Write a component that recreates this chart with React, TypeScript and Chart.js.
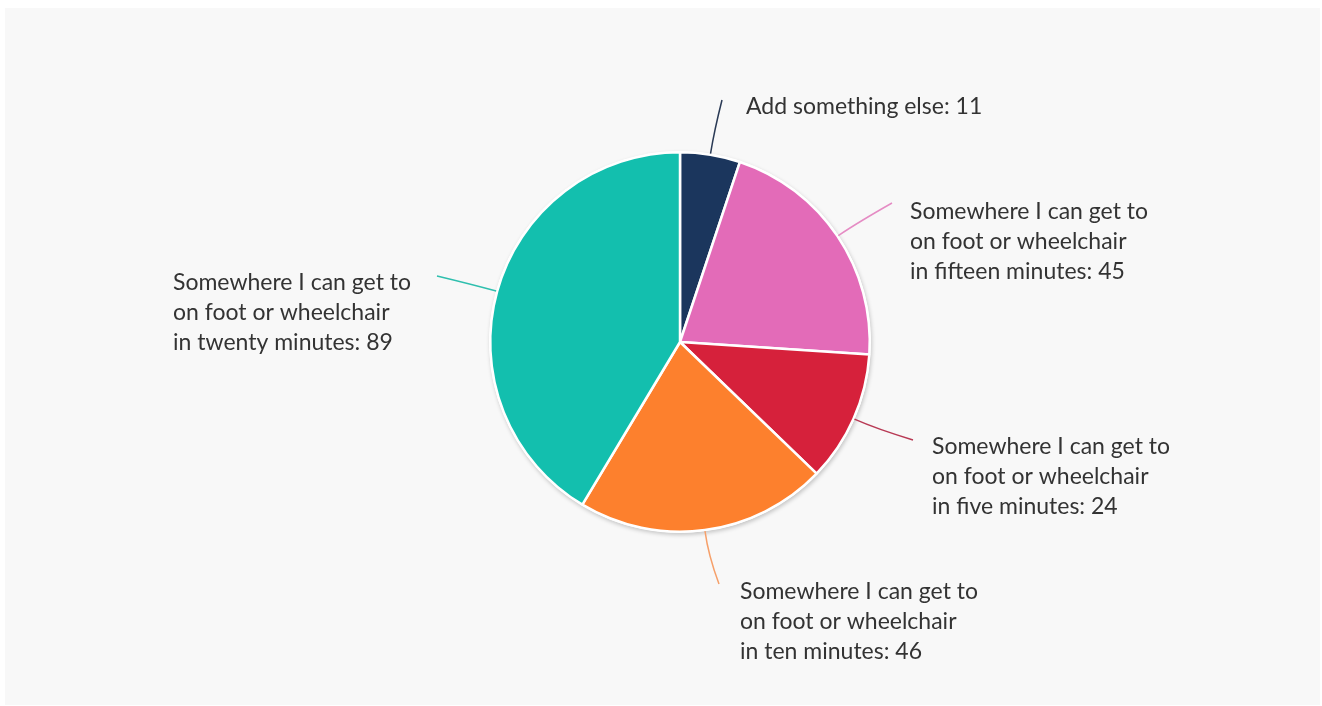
import React, { useEffect, useRef } from "react";
import { Chart, registerables } from "chart.js";
Chart.register(...registerables);

// Category labels (line-broken as in the reference)
const categories: string[][] = [
  ["Add something else"],
  ["Somewhere I can get to", "on foot or wheelchair", "in fifteen minutes"],
  ["Somewhere I can get to", "on foot or wheelchair", "in five minutes"],
  ["Somewhere I can get to", "on foot or wheelchair", "in ten minutes"],
  ["Somewhere I can get to", "on foot or wheelchair", "in twenty minutes"],
];
const values: number[] = [11, 45, 24, 46, 89];
const sliceColors: string[] = ["#1b365d", "#e36bb8", "#d6213b", "#fd802d", "#13bfae"];
const leaderColors: string[] = ["#2a3a55", "#e58cc4", "#b83a55", "#f6a06a", "#2fbfae"];

// Layout of the callout labels relative to the pie centre (px)
const labelLayout = [
  { tx: 66, ty: -235, ex: 42, ey: -242 },
  { tx: 230, ty: -130, ex: 212, ey: -139 },
  { tx: 252, ty: 105, ex: 233, ey: 98 },
  { tx: 60, ty: 250, ex: 39, ey: 242 },
  { tx: -507, ty: -59, ex: -243, ey: -66 },
];

const FONT = "23px Lato, 'Noto Sans', sans-serif";
const LINE_H = 30;

const shadowPlugin = {
  id: "pieShadow",
  beforeDatasetsDraw(chart: any) {
    const meta = chart.getDatasetMeta(0);
    const arc = meta.data[0];
    if (!arc) return;
    const { x, y, outerRadius } = arc.getProps(["x", "y", "outerRadius"], true);
    const ctx = chart.ctx;
    ctx.save();
    ctx.shadowColor = "rgba(0,0,0,0.22)";
    ctx.shadowBlur = 4;
    ctx.shadowOffsetX = 1;
    ctx.shadowOffsetY = 2;
    ctx.beginPath();
    ctx.arc(x, y, outerRadius + 1, 0, Math.PI * 2);
    ctx.fillStyle = "#ffffff";
    ctx.fill();
    ctx.restore();
  },
};

const calloutPlugin = {
  id: "callouts",
  afterDatasetsDraw(chart: any) {
    const meta = chart.getDatasetMeta(0);
    const ctx = chart.ctx;
    meta.data.forEach((arc: any, i: number) => {
      const { x, y, startAngle, endAngle, outerRadius } = arc.getProps(
        ["x", "y", "startAngle", "endAngle", "outerRadius"],
        true
      );
      const mid = (startAngle + endAngle) / 2;
      const lay = labelLayout[i];
      const p0x = x + Math.cos(mid) * (outerRadius + 1);
      const p0y = y + Math.sin(mid) * (outerRadius + 1);
      const cpx = x + Math.cos(mid) * (outerRadius + 25);
      const cpy = y + Math.sin(mid) * (outerRadius + 25);
      const ex = x + lay.ex;
      const ey = y + lay.ey;
      ctx.save();
      ctx.strokeStyle = leaderColors[i];
      ctx.lineWidth = 1.5;
      ctx.beginPath();
      ctx.moveTo(p0x, p0y);
      ctx.quadraticCurveTo(cpx, cpy, ex, ey);
      ctx.stroke();

      ctx.fillStyle = "#333333";
      ctx.font = FONT;
      ctx.textAlign = "left";
      ctx.textBaseline = "middle";
      const lines = categories[i].slice();
      lines[lines.length - 1] = lines[lines.length - 1] + ": " + values[i];
      lines.forEach((ln, k) => {
        ctx.fillText(ln, x + lay.tx, y + lay.ty + k * LINE_H);
      });
      ctx.restore();
    });
  },
};

export default function App() {
  const ref = useRef<HTMLCanvasElement | null>(null);
  useEffect(() => {
    if (!ref.current) return;
    const chart = new Chart(ref.current, {
      type: "pie",
      data: {
        labels: categories.map((c) => c.join(" ")),
        datasets: [
          {
            data: values,
            backgroundColor: sliceColors,
            borderColor: "#ffffff",
            borderWidth: 2.5,
          },
        ],
      },
      options: {
        responsive: false,
        animation: false,
        layout: { padding: { top: 151, bottom: 173, left: 38, right: 0 } },
        plugins: {
          legend: { display: false },
          tooltip: { enabled: false },
        },
      },
      plugins: [shadowPlugin, calloutPlugin],
    });
    return () => chart.destroy();
  }, []);

  return (
    <div style={{ position: "fixed", left: 0, top: 0, width: 1322, height: 706, background: "#ffffff" }}>
      <div style={{ position: "absolute", left: 5, top: 8, width: 1315, height: 697, background: "#f8f8f8" }} />
      <canvas
        ref={ref}
        width={1322}
        height={706}
        style={{ position: "absolute", left: 0, top: 0, width: 1322, height: 706 }}
      />
    </div>
  );
}
